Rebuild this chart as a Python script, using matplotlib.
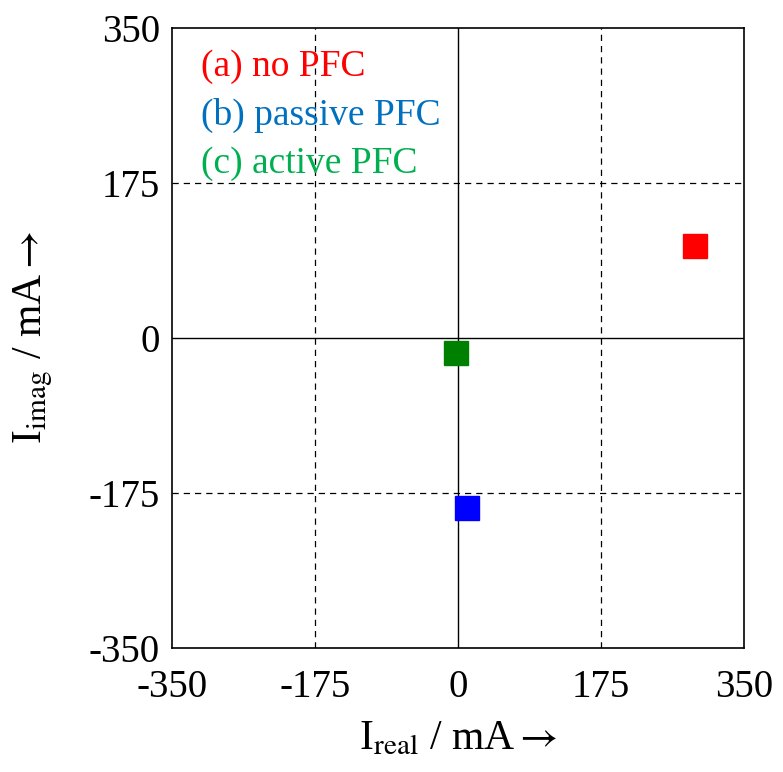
import matplotlib
matplotlib.use('Agg')
import matplotlib.pyplot as plt

plt.rcParams['font.family'] = ['Liberation Serif', 'DejaVu Serif']
plt.rcParams['mathtext.fontset'] = 'stix'

# data (mA)
labels = ['(a) no PFC', '(b) passive PFC', '(c) active PFC']
i_real = [290, 11, -2]
i_imag = [104, -192, -17]
marker_colors = ['#ff0000', '#0000ff', '#008000']
text_colors = ['#ff0000', '#0070c0', '#00b050']
ticks = [-350, -175, 0, 175, 350]

fig = plt.figure(figsize=(7.83, 7.72), dpi=100)
ax = fig.add_axes([0.22, 0.161, 0.73, 0.803])

for t in [-175, 175]:
    ax.axvline(t, color='black', ls=(0, (5, 4)), lw=0.9, zorder=1)
    ax.axhline(t, color='black', ls=(0, (5, 4)), lw=0.9, zorder=1)
ax.axvline(0, color='black', lw=1.0, zorder=1)
ax.axhline(0, color='black', lw=1.0, zorder=1)

for x, y, c in zip(i_real, i_imag, marker_colors):
    ax.plot(x, y, 's', color=c, ms=17, mec=c, zorder=3)

ax.set_xlim(-350, 350)
ax.set_ylim(-350, 350)
ax.set_xticks(ticks)
ax.set_yticks(ticks)
ax.set_xticklabels([str(t) for t in ticks])
ax.set_yticklabels([str(t) for t in ticks])
ax.tick_params(length=0, labelsize=28)
ax.tick_params(axis='y', pad=9)
ax.tick_params(axis='x', pad=15)
for s in ax.spines.values():
    s.set_linewidth(1.2)

ax.set_xlabel(r'I$_{\mathrm{real}}$ / mA$\rightarrow$', fontsize=30, labelpad=10)
ax.set_ylabel(r'I$_{\mathrm{imag}}$ / mA$\rightarrow$', fontsize=30, labelpad=24)

for k, (lab, c) in enumerate(zip(labels, text_colors)):
    ax.text(0.05, 0.965 - k * 0.078, lab, color=c, fontsize=27,
            transform=ax.transAxes, va='top', ha='left')

fig.savefig('out.png', dpi=100)
